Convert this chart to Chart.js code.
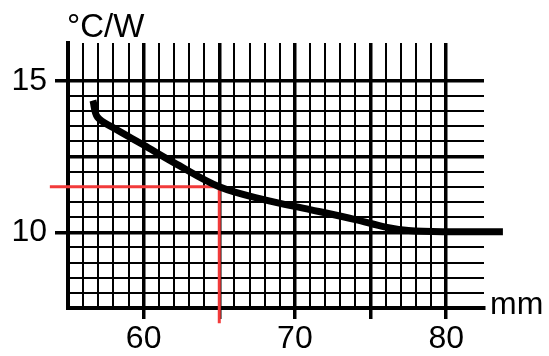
<!DOCTYPE html>
<html><head><meta charset="utf-8">
<script src="https://cdn.jsdelivr.net/npm/chart.js@4"></script>
<style>html,body{margin:0;padding:0;background:#fff;overflow:hidden}#wrap{width:549px;height:356px}</style>
</head><body><div id="wrap"><canvas id="c" width="549" height="356"></canvas></div>
<script>
// Curve: thermal resistance vs length
const curveX = [56.65, 56.95, 58, 60, 62, 65, 68, 71, 74, 76, 77.5, 80, 83.75];
const curveY = [14.35, 13.8, 13.45, 12.88, 12.3, 11.5, 11.07, 10.75, 10.42, 10.17, 10.06, 10.02, 10.02];
// Red reading lines
const markX = [53.8, 65, 65];
const markY = [11.5, 11.5, 7.0];
// Grid / ticks
const xGrid = [55,56,57,58,59,60,61,62,63,64,65,66,67,68,69,70,71,72,73,74,75,76,77,78,79,80];
const yGrid = [7.5,8,8.5,9,9.5,10,10.5,11,11.5,12,12.5,13,13.5,14,14.5,15];
const xTickLabels = [60, 70, 80];
const xTickMarks = [60, 65, 70, 75, 80];
const yTickLabels = [15, 10];
const xTitle = 'mm';
const yTitle = '°C/W';

const FONT = '"Liberation Sans", Arial, sans-serif';
const titles = {
  id: 'titles',
  afterDraw(chart) {
    const ctx = chart.ctx;
    ctx.save();
    ctx.fillStyle = '#000';
    ctx.textBaseline = 'alphabetic';
    ctx.textAlign = 'left';
    ctx.font = '33px ' + FONT;
    ctx.fillText(yTitle, 67, 37);
    ctx.font = '32px ' + FONT;
    ctx.fillText(xTitle, 490, 314);
    ctx.restore();
  }
};

new Chart(document.getElementById('c'), {
  type: 'line',
  data: {
    datasets: [
      { data: curveX.map((x,i)=>({x, y: curveY[i]})), borderColor: '#000', borderWidth: 7,
        pointRadius: 0, tension: 0.35, clip: false, borderCapStyle: 'butt' },
      { data: markX.map((x,i)=>({x, y: markY[i]})), borderColor: '#f23a3a', borderWidth: 3,
        pointRadius: 0, tension: 0, clip: false }
    ]
  },
  plugins: [titles],
  options: {
    responsive: false, animation: false,
    layout: { padding: { left: 0, top: 43, right: 65, bottom: 0 } },
    plugins: { legend: { display: false }, tooltip: { enabled: false } },
    scales: {
      x: {
        type: 'linear', min: 55, max: 82.5,
        afterBuildTicks: s => { s.ticks = xGrid.map(v => ({ value: v })); },
        afterFit: s => { s.height = 48; },
        border: { display: true, color: '#000', width: 4 },
        grid: {
          color: '#000',
          lineWidth: c => (c.tick && c.tick.value % 5 === 0) ? 3.5 : 2,
          tickColor: c => (c.tick && xTickMarks.includes(c.tick.value)) ? '#000' : 'rgba(0,0,0,0)',
          tickWidth: 3.5,
          tickLength: 11,
          drawTicks: true
        },
        ticks: {
          autoSkip: false, maxRotation: 0, color: '#000', padding: 1,
          font: { size: 32, family: FONT },
          callback: v => xTickLabels.includes(v) ? String(v) : ''
        }
      },
      y: {
        type: 'linear', min: 7.5, max: 16.25,
        afterBuildTicks: s => { s.ticks = yGrid.map(v => ({ value: v })); },
        afterFit: s => { s.width = 68; },
        border: { display: true, color: '#000', width: 4 },
        grid: {
          color: '#000',
          lineWidth: c => (c.tick && c.tick.value % 2.5 === 0) ? 3.5 : 2,
          tickColor: c => (c.tick && yTickLabels.includes(c.tick.value)) ? '#000' : 'rgba(0,0,0,0)',
          tickWidth: 3.5,
          tickLength: 13
        },
        ticks: {
          autoSkip: false, color: '#000', padding: 8,
          font: { size: 32, family: FONT },
          callback: v => yTickLabels.includes(v) ? String(v) : ''
        }
      }
    }
  }
});
</script></body></html>
